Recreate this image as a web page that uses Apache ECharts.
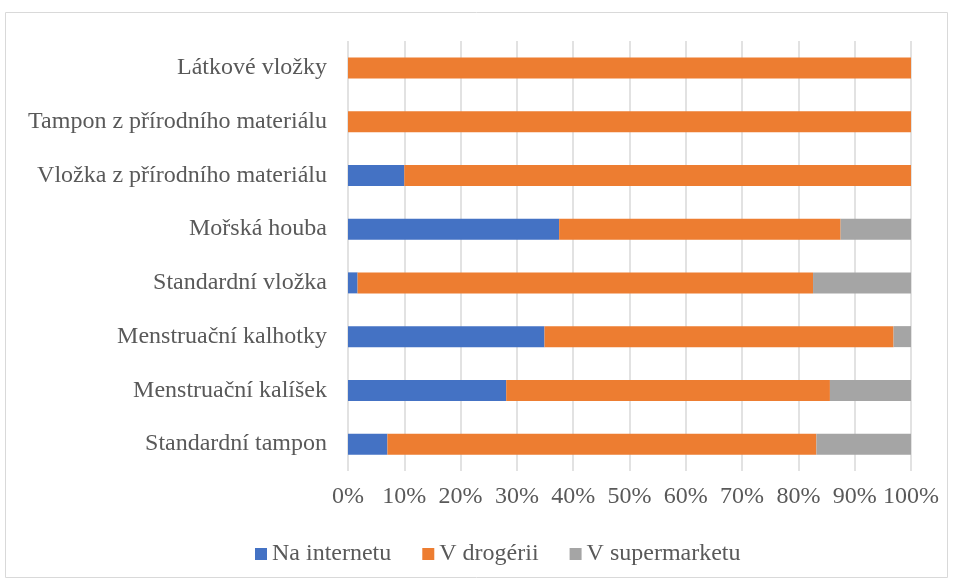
<!DOCTYPE html>
<html>
<head>
<meta charset="utf-8">
<script src="https://cdn.jsdelivr.net/npm/echarts@6/dist/echarts.min.js"></script>
<style>
  html, body { margin: 0; padding: 0; background: #fff; }
  #chart { width: 954px; height: 581px; }
</style>
</head>
<body>
<div id="chart"></div>
<script>
// kategorie odspodu nahoru (jak je kreslí osa y)
const categories = [
  'Standardní tampon',
  'Menstruační kalíšek',
  'Menstruační kalhotky',
  'Standardní vložka',
  'Mořská houba',
  'Vložka z přírodního materiálu',
  'Tampon z přírodního materiálu',
  'Látkové vložky'
];
const naInternetu = [7.0, 28.1, 34.9, 1.7, 37.5, 10, 0, 0];
const vDrogerii = [76.2, 57.5, 62.0, 80.9, 50.0, 90, 100, 100];
const vSupermarketu = [16.8, 14.4, 3.1, 17.4, 12.5, 0, 0, 0];

const chart = echarts.init(document.getElementById('chart'));
const font = '"Liberation Serif", "Times New Roman", serif';

const mk = (name, data, color) => ({
  name: name,
  type: 'bar',
  stack: 'total',
  data: data,
  barWidth: 21,
  itemStyle: { color: color },
  emphasis: { disabled: true }
});

chart.setOption({
  animation: false,
  textStyle: { fontFamily: font },
  graphic: [{
    type: 'rect',
    shape: { x: 5.5, y: 12.5, width: 942, height: 565 },
    style: { fill: 'none', stroke: '#d9d9d9', lineWidth: 1 }
  }],
  grid: { left: 348, top: 41, width: 563, height: 430 },
  legend: {
    top: 537,
    left: 250,
    itemWidth: 12,
    itemHeight: 12,
    itemGap: 31,
    icon: 'rect',
    textStyle: { fontFamily: font, fontSize: 24, color: '#595959' },
    data: ['Na internetu', 'V drogérii', 'V supermarketu']
  },
  xAxis: {
    type: 'value',
    min: 0,
    max: 100,
    interval: 10,
    axisLine: { show: false },
    axisTick: { show: false },
    splitLine: { lineStyle: { color: '#d9d9d9', width: 1.5 } },
    axisLabel: {
      formatter: '{value}%',
      fontFamily: font,
      fontSize: 24,
      color: '#595959',
      margin: 14
    }
  },
  yAxis: {
    type: 'category',
    data: categories,
    axisLine: { show: false },
    axisTick: { show: false },
    axisLabel: {
      fontFamily: font,
      fontSize: 24,
      color: '#595959',
      margin: 21
    }
  },
  series: [
    mk('Na internetu', naInternetu, '#4472c4'),
    mk('V drogérii', vDrogerii, '#ed7d31'),
    mk('V supermarketu', vSupermarketu, '#a5a5a5')
  ]
});
</script>
</body>
</html>
